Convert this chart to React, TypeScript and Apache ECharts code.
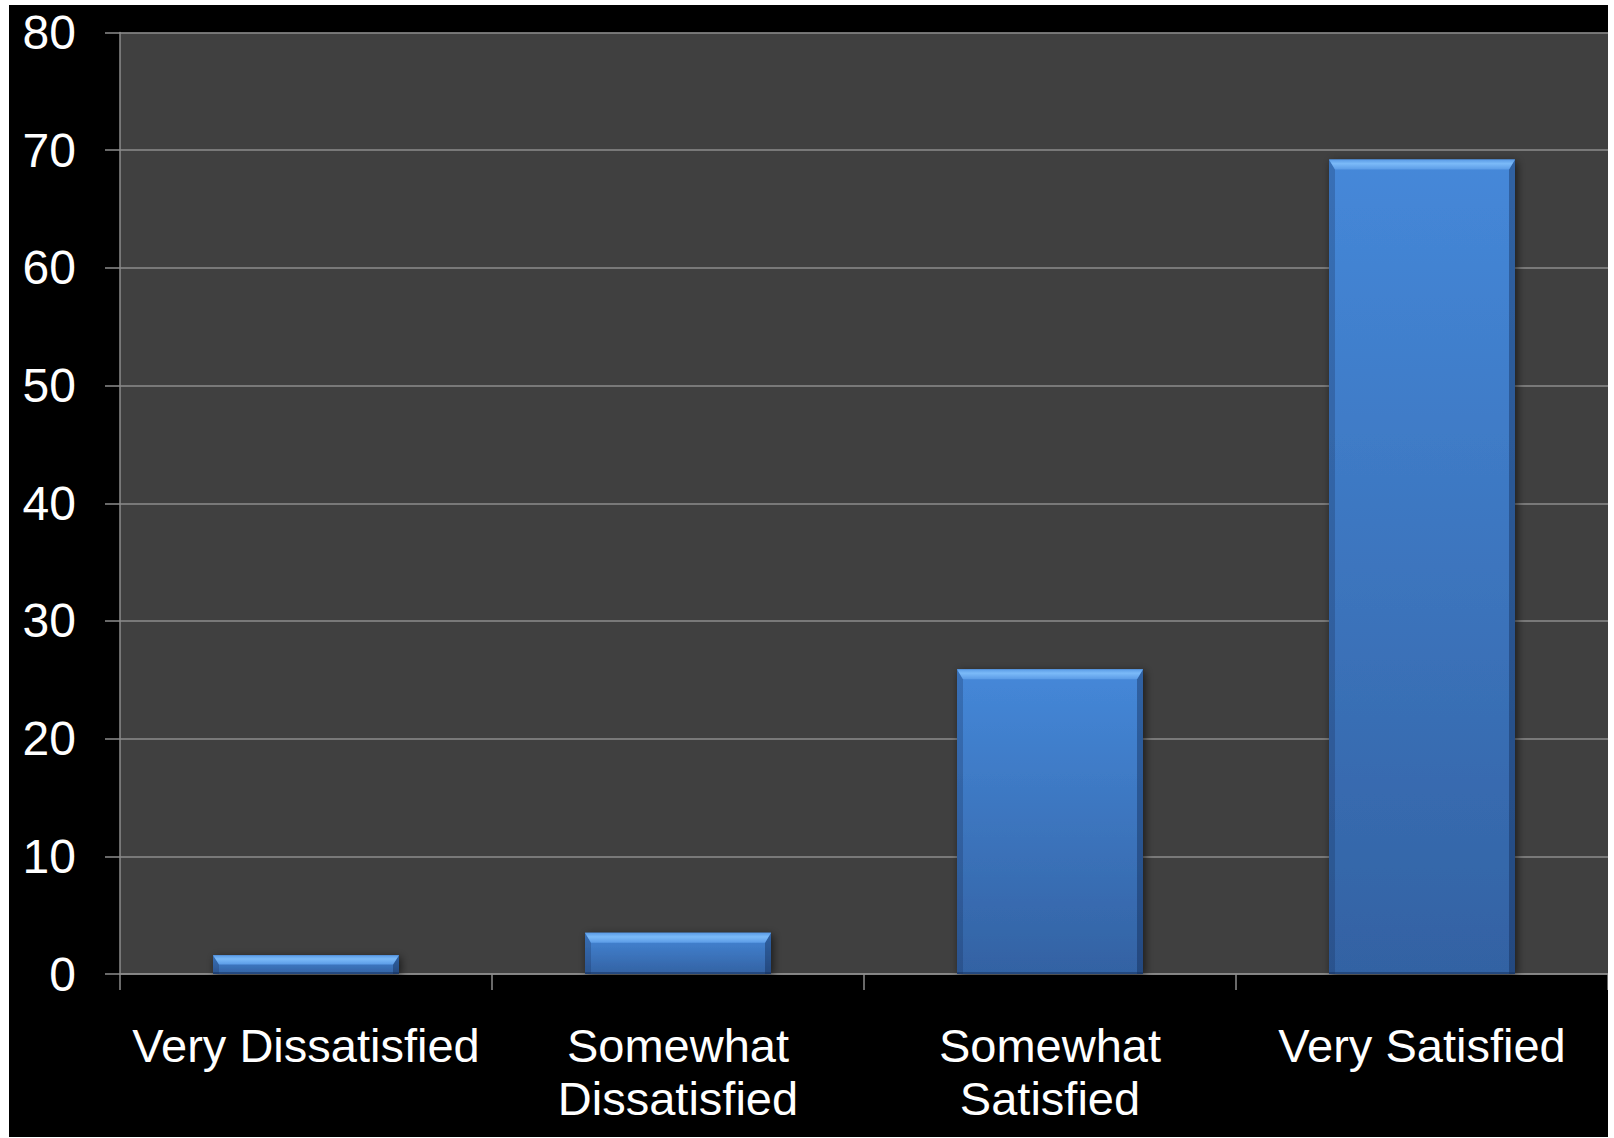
import React, { useEffect, useRef } from "react";
import * as echarts from "echarts";

const categories = ["Very Dissatisfied", "Somewhat\nDissatisfied", "Somewhat\nSatisfied", "Very Satisfied"];
const values = [1.6, 3.5, 25.9, 69.2];
const yTicks = { min: 0, max: 80, interval: 10 };

export default function App() {
  const ref = useRef<HTMLDivElement>(null);
  useEffect(() => {
    document.body.style.margin = "0";
    document.body.style.background = "#ffffff";
    const chart = echarts.init(ref.current!, undefined, { renderer: "svg" });
    const data = values.map((v, i) => [i, v]);
    chart.setOption({
      animation: false,
      backgroundColor: "#000000",
      textStyle: { fontFamily: "Liberation Sans, Arial, sans-serif" },
      grid: {
        left: 111,
        right: 0,
        top: 27.5,
        bottom: 163,
        show: true,
        backgroundColor: "#404040",
        borderWidth: 0,
      },
      xAxis: {
        type: "category",
        data: categories,
        axisLine: { show: true, lineStyle: { color: "#8c8c8c", width: 1.5 } },
        axisTick: { show: true, length: 16, lineStyle: { color: "#8c8c8c", width: 1.5 } },
        axisLabel: {
          color: "#ffffff",
          fontSize: 47,
          lineHeight: 53,
          margin: 45,
          interval: 0,
          fontFamily: "Liberation Sans, Arial, sans-serif",
        },
        splitLine: { show: false },
      },
      yAxis: {
        type: "value",
        min: yTicks.min,
        max: yTicks.max,
        interval: yTicks.interval,
        axisLine: { show: true, lineStyle: { color: "#8c8c8c", width: 1.5 } },
        axisTick: { show: true, length: 15, lineStyle: { color: "#8c8c8c", width: 1.5 } },
        axisLabel: {
          color: "#ffffff",
          fontSize: 48,
          margin: 44,
          fontFamily: "Liberation Sans, Arial, sans-serif",
        },
        splitLine: { show: true, lineStyle: { color: "#8c8c8c", width: 1.5 } },
      },
      series: [
        {
          type: "custom",
          data,
          encode: { x: 0, y: 1 },
          renderItem: (params: any, api: any) => {
            const idx = api.value(0);
            const v = api.value(1);
            const top = api.coord([idx, v]);
            const base = api.coord([idx, 0]);
            const bw = api.size([1, 0])[0] * 0.5;
            const x0 = top[0] - bw / 2;
            const x1 = top[0] + bw / 2;
            const y0 = top[1];
            const y1 = base[1];
            const h = y1 - y0;
            const b = Math.min(10, h / 2);
            const s = 6;
            return {
              type: "group",
              children: [
                {
                  type: "rect",
                  shape: { x: x0, y: y0, width: bw, height: h },
                  style: {
                    fill: new echarts.graphic.LinearGradient(0, 0, 0, 1, [
                      { offset: 0, color: "#4588d9" },
                      { offset: 1, color: "#3362a3" },
                    ]),
                    shadowBlur: 8,
                    shadowColor: "rgba(0,0,0,0.6)",
                    shadowOffsetX: 2,
                    shadowOffsetY: 2,
                  },
                },
                {
                  type: "polygon",
                  shape: { points: [[x0, y0], [x0 + s, y0 + b], [x0 + s, y1], [x0, y1]] },
                  style: { fill: "rgba(20,40,80,0.25)" },
                },
                {
                  type: "polygon",
                  shape: { points: [[x1, y0], [x1 - s, y0 + b], [x1 - s, y1], [x1, y1]] },
                  style: { fill: "rgba(10,25,60,0.35)" },
                },
                {
                  type: "polygon",
                  shape: { points: [[x0, y0], [x1, y0], [x1 - s, y0 + b], [x0 + s, y0 + b]] },
                  style: {
                    fill: new echarts.graphic.LinearGradient(0, 0, 0, 1, [
                      { offset: 0, color: "#5a9be6" },
                      { offset: 0.4, color: "#7bbaf8" },
                      { offset: 1, color: "#5b9be6" },
                    ]),
                  },
                },
                {
                  type: "rect",
                  shape: { x: x0, y: y1 - 2, width: bw, height: 2 },
                  style: { fill: "rgba(20,45,90,0.5)" },
                },
              ],
            };
          },
        },
      ],
    });
    return () => chart.dispose();
  }, []);
  return (
    <div
      ref={ref}
      style={{ position: "absolute", left: 9, top: 5, width: 1599, height: 1132 }}
    />
  );
}
